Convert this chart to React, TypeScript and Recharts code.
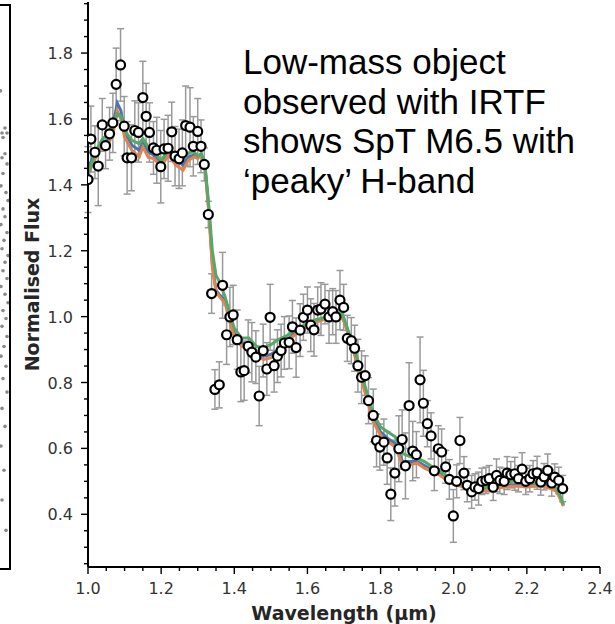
import React from 'react';
import { ComposedChart, ScatterChart, Line, Scatter, ErrorBar, XAxis, YAxis } from 'recharts';

// observed IRTF spectrum (wavelength in micron, normalised flux, 1-sigma error)
const obsWl = [
  1.0, 1.008, 1.019, 1.028, 1.039, 1.048, 1.059, 1.068, 1.077, 1.089, 1.099, 1.107, 1.119, 1.128, 1.138,
  1.15, 1.159, 1.168, 1.179, 1.188, 1.199, 1.208, 1.219, 1.229, 1.238, 1.249, 1.258, 1.267, 1.279, 1.288,
  1.3, 1.309, 1.318, 1.329, 1.338, 1.347, 1.359, 1.368, 1.379, 1.388, 1.397, 1.408, 1.418, 1.427, 1.438,
  1.448, 1.459, 1.468, 1.479, 1.489, 1.498, 1.509, 1.518, 1.528, 1.537, 1.55, 1.559, 1.569, 1.58, 1.589,
  1.6, 1.609, 1.618, 1.628, 1.637, 1.648, 1.659, 1.669, 1.678, 1.689, 1.699, 1.709, 1.72, 1.729, 1.738,
  1.748, 1.758, 1.767, 1.78, 1.789, 1.798, 1.809, 1.818, 1.828, 1.839, 1.85, 1.859, 1.868, 1.878, 1.888,
  1.898, 1.908, 1.917, 1.928, 1.938, 1.947, 1.958, 1.967, 1.978, 1.988, 1.999, 2.008, 2.017, 2.028, 2.037,
  2.049, 2.058, 2.068, 2.077, 2.088, 2.097, 2.108, 2.117, 2.126, 2.138, 2.146, 2.156, 2.167, 2.177, 2.187,
  2.197, 2.208, 2.217, 2.228, 2.238, 2.247, 2.257, 2.268, 2.276, 2.287, 2.298,
];
const obsFlux = [
  1.416, 1.539, 1.499, 1.457, 1.582, 1.519, 1.555, 1.588, 1.705, 1.764, 1.578, 1.482, 1.482, 1.565, 1.559,
  1.665, 1.608, 1.559, 1.512, 1.505, 1.455, 1.509, 1.511, 1.561, 1.487, 1.479, 1.497, 1.58, 1.575, 1.517,
  1.562, 1.517, 1.462, 1.31, 1.07, 0.779, 0.793, 1.095, 0.945, 0.999, 1.005, 0.93, 0.832, 0.836, 0.91,
  0.892, 0.877, 0.759, 0.897, 0.841, 0.998, 0.851, 0.88, 0.897, 0.92, 0.922, 0.969, 0.906, 0.959, 0.998,
  1.02, 0.974, 0.96, 1.02, 1.023, 1.038, 0.999, 1.015, 0.999, 1.05, 1.028, 0.934, 0.927, 0.904, 0.851,
  0.816, 0.821, 0.745, 0.7, 0.624, 0.604, 0.619, 0.571, 0.461, 0.525, 0.599, 0.627, 0.547, 0.73, 0.592,
  0.581, 0.808, 0.737, 0.675, 0.638, 0.532, 0.599, 0.589, 0.544, 0.506, 0.395, 0.5, 0.624, 0.525, 0.488,
  0.468, 0.483, 0.478, 0.5, 0.503, 0.508, 0.482, 0.518, 0.503, 0.5, 0.525, 0.52, 0.523, 0.508, 0.537,
  0.5, 0.508, 0.523, 0.526, 0.498, 0.514, 0.533, 0.495, 0.513, 0.503, 0.478,
];
const obsErr = [
  0.1, 0.1, 0.08, 0.12, 0.08, 0.07, 0.08, 0.09, 0.11, 0.11, 0.09, 0.11, 0.1, 0.09, 0.09,
  0.11, 0.1, 0.09, 0.08, 0.1, 0.11, 0.09, 0.1, 0.09, 0.09, 0.09, 0.1, 0.12, 0.12, 0.09,
  0.1, 0.08, 0.05, 0.04, 0.06, 0.06, 0.07, 0.1, 0.09, 0.09, 0.09, 0.09, 0.09, 0.09, 0.08,
  0.09, 0.08, 0.09, 0.08, 0.08, 0.1, 0.08, 0.08, 0.08, 0.08, 0.08, 0.08, 0.09, 0.08, 0.07,
  0.07, 0.08, 0.08, 0.07, 0.08, 0.06, 0.08, 0.07, 0.08, 0.09, 0.07, 0.07, 0.07, 0.07, 0.08,
  0.08, 0.06, 0.07, 0.08, 0.08, 0.07, 0.07, 0.08, 0.08, 0.1, 0.1, 0.09, 0.1, 0.13, 0.09,
  0.07, 0.13, 0.1, 0.07, 0.07, 0.06, 0.07, 0.07, 0.05, 0.06, 0.08, 0.05, 0.07, 0.05, 0.05,
  0.05, 0.04, 0.05, 0.04, 0.04, 0.04, 0.04, 0.05, 0.04, 0.04, 0.05, 0.04, 0.05, 0.04, 0.05,
  0.04, 0.04, 0.04, 0.05, 0.04, 0.04, 0.05, 0.04, 0.04, 0.04, 0.04,
];

// template / model spectra
const modelWl = [
  1.0, 1.02, 1.04, 1.05, 1.06, 1.07, 1.08, 1.09, 1.1, 1.12, 1.14, 1.15, 1.165, 1.18, 1.2, 1.22, 1.24, 1.26,
  1.275, 1.29, 1.3, 1.31, 1.32, 1.33, 1.34, 1.35, 1.36, 1.375, 1.39, 1.4, 1.42, 1.44, 1.46, 1.48, 1.5, 1.52,
  1.54, 1.56, 1.58, 1.6, 1.62, 1.64, 1.66, 1.68, 1.69, 1.7, 1.72, 1.74, 1.76, 1.78, 1.8, 1.82, 1.84, 1.86,
  1.88, 1.9, 1.92, 1.94, 1.96, 1.98, 2.0, 2.02, 2.04, 2.06, 2.08, 2.1, 2.12, 2.14, 2.16, 2.18, 2.2, 2.22,
  2.24, 2.26, 2.28, 2.29, 2.3,
];
const blueFlux = [
  1.45, 1.5, 1.535, 1.53, 1.55, 1.59, 1.648, 1.625, 1.56, 1.52, 1.505, 1.53, 1.5, 1.49, 1.465, 1.5, 1.475, 1.46,
  1.485, 1.49, 1.485, 1.49, 1.455, 1.33, 1.16, 1.08, 1.065, 1.05, 0.985, 0.95, 0.92, 0.91, 0.89, 0.88, 0.885, 0.9,
  0.92, 0.945, 0.96, 0.975, 0.985, 0.99, 1.0, 1.01, 1.01, 0.99, 0.925, 0.845, 0.765, 0.69, 0.65, 0.63, 0.615, 0.56,
  0.56, 0.56, 0.548, 0.535, 0.525, 0.51, 0.495, 0.49, 0.48, 0.473, 0.473, 0.478, 0.483, 0.487, 0.49, 0.49, 0.488, 0.488,
  0.488, 0.483, 0.473, 0.453, 0.427,
];
const orangeFlux = [
  1.43, 1.48, 1.525, 1.51, 1.535, 1.565, 1.625, 1.6, 1.545, 1.505, 1.485, 1.515, 1.483, 1.48, 1.455, 1.49, 1.46, 1.445,
  1.475, 1.485, 1.48, 1.49, 1.45, 1.32, 1.15, 1.075, 1.06, 1.04, 0.975, 0.94, 0.91, 0.9, 0.88, 0.87, 0.875, 0.895,
  0.915, 0.94, 0.955, 0.97, 0.98, 0.99, 0.995, 1.005, 1.005, 0.985, 0.92, 0.84, 0.76, 0.68, 0.64, 0.62, 0.605, 0.55,
  0.55, 0.555, 0.54, 0.53, 0.52, 0.505, 0.49, 0.485, 0.475, 0.47, 0.47, 0.475, 0.48, 0.483, 0.485, 0.485, 0.483, 0.485,
  0.485, 0.48, 0.47, 0.45, 0.425,
];
const greenFlux = [
  1.43, 1.5, 1.54, 1.55, 1.555, 1.58, 1.615, 1.61, 1.565, 1.535, 1.525, 1.54, 1.515, 1.5, 1.475, 1.505, 1.49, 1.48,
  1.497, 1.5, 1.487, 1.495, 1.46, 1.34, 1.2, 1.125, 1.105, 1.06, 1.0, 0.965, 0.935, 0.935, 0.91, 0.905, 0.915, 0.93,
  0.94, 0.955, 0.967, 0.98, 0.99, 0.995, 1.005, 1.02, 1.02, 0.995, 0.93, 0.86, 0.78, 0.705, 0.665, 0.65, 0.635, 0.585,
  0.575, 0.57, 0.56, 0.545, 0.535, 0.515, 0.5, 0.495, 0.485, 0.478, 0.48, 0.485, 0.49, 0.495, 0.5, 0.5, 0.497, 0.495,
  0.495, 0.49, 0.48, 0.46, 0.43,
];

// ticks
const xTicks = [
  1.0, 1.05, 1.1, 1.15, 1.2, 1.25, 1.3, 1.35, 1.4, 1.45, 1.5, 1.55, 1.6, 1.65, 1.7, 1.75, 1.8, 1.85, 1.9, 1.95,
  2.0, 2.05, 2.1, 2.15, 2.2, 2.25, 2.3, 2.35, 2.4,
];
const xMajor = [1.0, 1.2, 1.4, 1.6, 1.8, 2.0, 2.2, 2.4];
const yTicks = [
  0.25, 0.3, 0.35, 0.4, 0.45, 0.5, 0.55, 0.6, 0.65, 0.7, 0.75, 0.8, 0.85, 0.9, 0.95, 1.0, 1.05, 1.1, 1.15, 1.2,
  1.25, 1.3, 1.35, 1.4, 1.45, 1.5, 1.55, 1.6, 1.65, 1.7, 1.75, 1.8, 1.85, 1.9, 1.95,
];
const yMajor = [0.4, 0.6, 0.8, 1.0, 1.2, 1.4, 1.6, 1.8];

// neighbouring panel (clipped at the left edge)
const leftDotX = [0.5, 5, 2, 7, 3, 5, 2, 7, 3, 1, 6, 8, 3, 5, 1, 7, 4, 2, 8, 5, 3, 7, 1, 5, 8, 3, 6, 2, 7, 4, 1, 6, 3, 7, 2, 5, 1, 4, 2, 6];
const leftDotY = [
  84.9, 78.3, 77.4, 77.4, 76.6, 73.7, 73.0, 71.9, 70.2, 68.0, 66.8, 65.4, 63.9, 62.5, 61.1, 59.7, 58.3, 56.8, 55.6, 54.4,
  52.9, 51.5, 50.1, 48.7, 47.2, 45.8, 44.4, 43.0, 41.2, 39.4, 37.7, 35.9, 33.7, 31.3, 28.4, 25.2, 21.7, 17.4, 12.1, 6.7,
];

const noteLines = ['Low-mass object', 'observed with IRTF', 'shows SpT M6.5 with', '\u2018peaky\u2019 H-band'];

const COLORS = {
  blue: '#4c72b0',
  orange: '#dd8452',
  green: '#55a868',
  err: '#9a9a9a',
  tick: '#333333',
};

const obsData = obsWl.map((wl, i) => ({ wl, flux: obsFlux[i], err: obsErr[i] }));
const toSeries = (flux: number[]) => modelWl.map((wl, i) => ({ wl, flux: flux[i] }));
const leftDots = leftDotX.map((x, i) => ({ x, y: leftDotY[i] }));

const isMajor = (v: number, majors: number[]) => majors.some((m) => Math.abs(m - v) < 1e-6);

const XTick = (props: any) => {
  const { x, y, payload } = props;
  const major = isMajor(payload.value, xMajor);
  return (
    <g>
      <line x1={x} x2={x} y1={y} y2={y + (major ? 7 : 4)} stroke="#000" strokeWidth={1.4} />
      {major && (
        <text x={x} y={y + 27} textAnchor="middle" fontSize={16} fill={COLORS.tick} fontFamily="DejaVu Sans">
          {payload.value.toFixed(1)}
        </text>
      )}
    </g>
  );
};

const YTick = (props: any) => {
  const { x, y, payload } = props;
  const major = isMajor(payload.value, yMajor);
  return (
    <g>
      <line x1={x} x2={x - (major ? 7 : 4)} y1={y} y2={y} stroke="#000" strokeWidth={1.4} />
      {major && (
        <text x={x - 15} y={y + 6} textAnchor="end" fontSize={16} fill={COLORS.tick} fontFamily="DejaVu Sans">
          {payload.value.toFixed(1)}
        </text>
      )}
    </g>
  );
};

const OpenCircle = (props: any) => (
  <circle cx={props.cx} cy={props.cy} r={4.5} fill="#fff" stroke="#000" strokeWidth={2.2} />
);
const NoShape = () => <g />;

export default function App() {
  return (
    <div style={{ position: 'absolute', left: 0, top: 0, width: 615, height: 624, background: '#fff', overflow: 'hidden' }}>
      {/* clipped neighbour panel */}
      <div style={{ position: 'absolute', left: 0, top: 0 }}>
        <ScatterChart width={9} height={624} margin={{ top: 6, right: 0, bottom: 56, left: 0 }}>
          <XAxis type="number" dataKey="x" domain={[0, 9]} hide />
          <YAxis type="number" dataKey="y" domain={[0, 100]} hide />
          <Scatter data={leftDots} fill="#8a8a8a" isAnimationActive={false} shape={(p: any) => <circle cx={p.cx} cy={p.cy} r={1.8} fill="#8a8a8a" />} />
        </ScatterChart>
      </div>
      <div style={{ position: 'absolute', left: -20, top: 4, width: 27, height: 562, border: '2px solid #000' }} />

      <div style={{ position: 'absolute', left: 0, top: 0 }}>
        <ComposedChart width={615} height={624} margin={{ top: 2, right: 15, bottom: 0, left: 0 }}>
          <XAxis
            type="number"
            dataKey="wl"
            domain={[1.0, 2.4]}
            ticks={xTicks}
            interval={0}
            allowDataOverflow
            height={57}
            tickSize={0}
            tickMargin={0}
            tickLine={false}
            tick={<XTick />}
            axisLine={{ stroke: '#000', strokeWidth: 2 }}
            label={{
              value: 'Wavelength (\u00b5m)',
              position: 'insideBottom',
              offset: 4,
              style: { fontFamily: 'DejaVu Sans', fontWeight: 'bold', fontSize: 19, fill: '#262626' },
            }}
          />
          <XAxis xAxisId="top" orientation="top" type="number" domain={[1.0, 2.4]} height={0} tick={false} tickLine={false} axisLine={{ stroke: '#000', strokeWidth: 2 }} />
          <YAxis
            type="number"
            domain={[0.24, 1.955]}
            ticks={yTicks}
            interval={0}
            allowDataOverflow
            width={88}
            tickSize={0}
            tickMargin={0}
            tickLine={false}
            tick={<YTick />}
            axisLine={{ stroke: '#000', strokeWidth: 2 }}
            label={{
              value: 'Normalised Flux',
              angle: -90,
              position: 'insideLeft',
              offset: 32,
              style: { textAnchor: 'middle', fontFamily: 'DejaVu Sans', fontWeight: 'bold', fontSize: 19, fill: '#262626' },
            }}
          />
          <YAxis yAxisId="right" orientation="right" type="number" domain={[0.24, 1.955]} width={0} tick={false} tickLine={false} axisLine={{ stroke: '#000', strokeWidth: 2 }} />

          {/* error bars behind the model lines */}
          <Scatter data={obsData} dataKey="flux" shape={<NoShape />} isAnimationActive={false}>
            <ErrorBar dataKey="err" direction="y" width={3.5} stroke={COLORS.err} strokeWidth={1.5} isAnimationActive={false} />
          </Scatter>

          <Line data={toSeries(blueFlux)} dataKey="flux" type="linear" stroke={COLORS.blue} strokeWidth={3} dot={false} isAnimationActive={false} />
          <Line data={toSeries(orangeFlux)} dataKey="flux" type="linear" stroke={COLORS.orange} strokeWidth={3} dot={false} isAnimationActive={false} />
          <Line data={toSeries(greenFlux)} dataKey="flux" type="linear" stroke={COLORS.green} strokeWidth={3} dot={false} isAnimationActive={false} />

          <Scatter data={obsData} dataKey="flux" shape={<OpenCircle />} isAnimationActive={false} />
        </ComposedChart>
      </div>

      <div
        style={{
          position: 'absolute',
          left: 243,
          top: 42,
          fontFamily: '"Liberation Sans", Arial, sans-serif',
          fontSize: 35,
          lineHeight: '39.7px',
          color: '#000',
          whiteSpace: 'nowrap',
        }}
      >
        {noteLines.map((t) => (
          <div key={t}>{t}</div>
        ))}
      </div>
    </div>
  );
}
